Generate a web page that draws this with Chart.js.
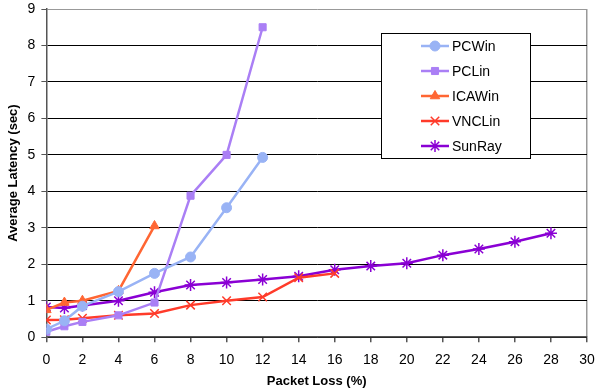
<!DOCTYPE html>
<html><head><meta charset="utf-8">
<script src="https://cdn.jsdelivr.net/npm/chart.js@4/dist/chart.umd.min.js"></script>
<style>html,body{margin:0;padding:0;background:#fff}#wrap{width:595px;height:392px}</style>
</head><body><div id="wrap"><canvas id="c" width="595" height="392"></canvas></div>
<script>
const seriesNames = ["PCWin","PCLin","ICAWin","VNCLin","SunRay"];
const pcwinX = [0,1,2,4,6,8,10,12];
const pcwinY = [0.22,0.45,0.85,1.25,1.75,2.2,3.55,4.93];
const pclinX = [0,1,2,4,6,8,10,12];
const pclinY = [0.15,0.3,0.42,0.6,0.95,3.88,5.0,8.5];
const icawinX = [0,1,2,4,6];
const icawinY = [0.75,0.95,1.0,1.27,3.05];
const vnclinX = [0,1,2,4,6,8,10,12,14,16];
const vnclinY = [0.47,0.48,0.52,0.6,0.65,0.88,1.0,1.1,1.63,1.75];
const sunrayX = [0,1,2,4,6,8,10,12,14,16,18,20,22,24,26,28];
const sunrayY = [0.83,0.8,0.87,1.0,1.23,1.43,1.5,1.58,1.67,1.85,1.95,2.03,2.25,2.42,2.62,2.85];
const xTicks = [0,2,4,6,8,10,12,14,16,18,20,22,24,26,28,30];
const yTicks = [0,1,2,3,4,5,6,7,8,9];

const pts = (xs, ys) => xs.map((x,i)=>({x:x,y:ys[i]}));
const styles = [
  {c:'#99b3f5', p:'circle', r:5},
  {c:'#aa7ff5', p:'rect', r:5},
  {c:'#ff6633', p:'triangle', r:5.5},
  {c:'#ff3b2a', p:'crossRot', r:6},
  {c:'#8a00d4', p:'star', r:6}
];
const dataSets = [pts(pcwinX,pcwinY),pts(pclinX,pclinY),pts(icawinX,icawinY),pts(vnclinX,vnclinY),pts(sunrayX,sunrayY)];
const datasets = dataSets.map((d,i)=>({
  label: seriesNames[i], data: d,
  borderColor: styles[i].c, backgroundColor: styles[i].c,
  pointStyle: styles[i].p, pointRadius: styles[i].r,
  pointBorderWidth: (styles[i].p==='crossRot'||styles[i].p==='star')?1.5:1,
  borderWidth: 2.5, showLine: true, tension: 0
}));

const legendBox = {
  id:'legendBox',
  afterDraw(chart){
    const ctx = chart.ctx;
    const L=381, T=33, R=530, B=158;
    ctx.save();
    ctx.fillStyle='#fff';
    ctx.fillRect(L,T,R-L,B-T);
    ctx.strokeStyle='#000'; ctx.lineWidth=1;
    ctx.strokeRect(L+0.5,T+0.5,R-L,B-T);
    ctx.font='14px "Liberation Sans", Arial, sans-serif';
    ctx.textBaseline='middle';
    chart.data.datasets.forEach((ds,i)=>{
      const y = 46 + i*25;
      ctx.strokeStyle=ds.borderColor; ctx.lineWidth=2.5;
      ctx.beginPath(); ctx.moveTo(421,y); ctx.lineTo(449,y); ctx.stroke();
      ctx.fillStyle=ds.borderColor; ctx.strokeStyle=ds.borderColor; ctx.lineWidth=ds.pointBorderWidth;
      Chart.helpers.drawPoint(ctx,{pointStyle:ds.pointStyle,radius:ds.pointRadius,rotation:0,borderWidth:ds.pointBorderWidth},435,y);
      ctx.fillStyle='#000';
      ctx.fillText(ds.label,452,y+1);
    });
    ctx.restore();
  }
};

Chart.defaults.font.family='"Liberation Sans", Arial, sans-serif';
Chart.defaults.color='#000';
new Chart(document.getElementById('c'),{
  type:'scatter',
  data:{datasets},
  options:{
    responsive:false, animation:false, devicePixelRatio:1,
    layout:{padding:{left:6,right:0,top:0,bottom:0}},
    plugins:{legend:{display:false},tooltip:{enabled:false}},
    scales:{
      x:{type:'linear',min:0,max:30,
        afterBuildTicks:(s)=>{s.ticks=xTicks.map(v=>({value:v}));},
        afterFit:(s)=>{s.paddingRight=8;},
        ticks:{font:{size:14},padding:10,maxRotation:0,autoSkip:false},
        grid:{color:(c)=>c.tick&&c.tick.value===30?'#999':'rgba(0,0,0,0)',tickColor:'#555',tickLength:5,lineWidth:1.5},
        border:{color:'#555',width:1.5},
        title:{display:true,text:'Packet Loss (%)',font:{size:13,weight:'bold',lineHeight:1.0},padding:{top:-4,bottom:4}}
      },
      y:{min:0,max:9,
        afterBuildTicks:(s)=>{s.ticks=yTicks.map(v=>({value:v}));},
        afterFit:(s)=>{s.paddingTop=9;},
        ticks:{font:{size:14},padding:6},
        grid:{color:(c)=>c.tick&&c.tick.value===9?'#999':'#000',tickColor:'#555',tickLength:5,lineWidth:1},
        border:{color:'#555',width:1.5},
        title:{display:true,text:'Average Latency (sec)',font:{size:13,weight:'bold'},padding:{top:0,bottom:0}}
      }
    }
  },
  plugins:[legendBox]
});
</script></body></html>
